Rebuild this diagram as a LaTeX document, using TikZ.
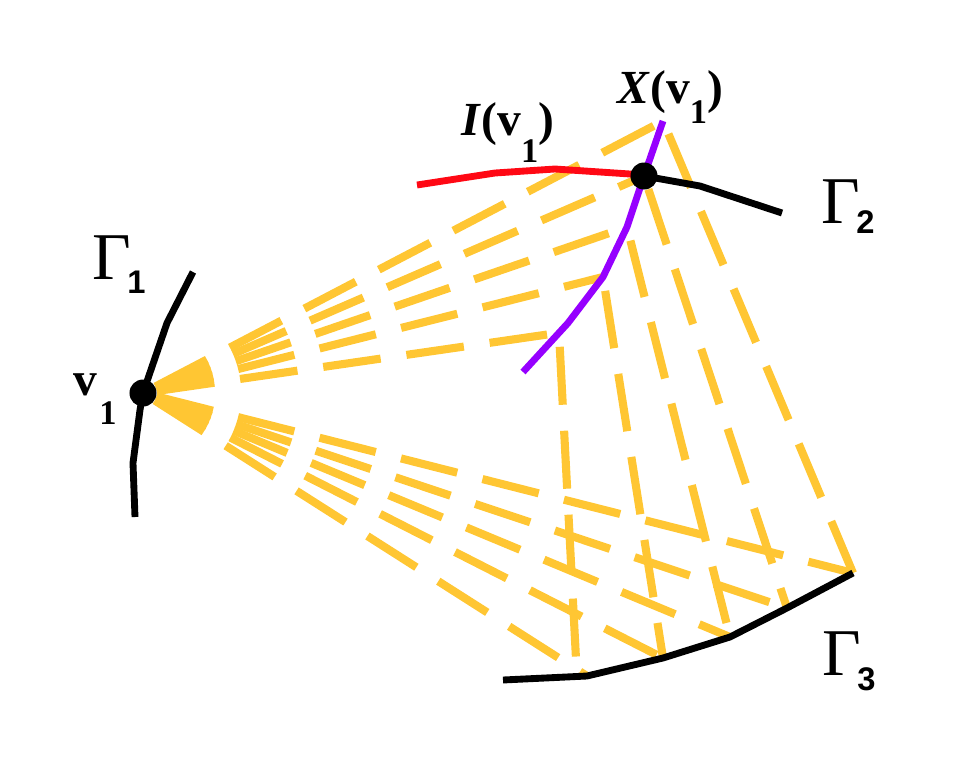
\documentclass[tikz,border=0pt]{standalone}
\usepackage{fontspec}
\setmainfont{Liberation Serif}
\newfontfamily\digitsans{Liberation Sans}
\usetikzlibrary{calc}
\definecolor{fanyellow}{RGB}{255,198,51}
\definecolor{curvered}{RGB}{255,8,20}
\definecolor{curvepurple}{RGB}{150,0,255}
\tikzset{fan/.style={fanyellow, line width=2.3pt, dash pattern=on 0.58cm off 0.26cm, dash phase=0.70cm},
         curve/.style={line width=1.95pt, line join=round},
         dot/.style={circle, fill=black, inner sep=0pt, minimum size=0.27cm},
         lbl/.style={anchor=base west, inner sep=0pt, font=\fontsize{13.5}{15}\selectfont\bfseries},
         gamma/.style={anchor=base west, inner sep=0pt, font=\fontsize{19}{21}\selectfont}
}
\newcommand{\lsub}[2]{\raisebox{#1}{\fontsize{9.8}{11}\selectfont\bfseries #2}}
\newcommand{\gsub}[2]{\raisebox{#1}{\digitsans\fontsize{9.3}{11}\selectfont\bfseries #2}}

\begin{document}
\begin{tikzpicture}[x=0.01cm,y=-0.01cm]
    \useasboundingbox (0,0) rectangle (972,760);
    % Gamma_1 with v_1 on it
    \coordinate (g1a) at (135,517);
    \coordinate (g1b) at (133,463);
    \coordinate (g1c) at (140,410);
    \coordinate (v1)  at (143,393);
    \coordinate (g1d) at (167,323);
    \coordinate (g1e) at (193,272);
    % Gamma_2, I(v_1) and X(v_1)
    \coordinate (x1)  at (644,176);
    \coordinate (g2b) at (700,186);
    \coordinate (g2c) at (782,213);
    \coordinate (r1) at (417,185);
    \coordinate (r2) at (495,173);
    \coordinate (r3) at (555,169);
    \coordinate (r4) at (630,174);
    \coordinate (p1) at (663,121);
    \coordinate (p3) at (627,227);
    \coordinate (p4) at (603,277);
    \coordinate (p5b) at (568,323);
    \coordinate (p6) at (523,372);
    \coordinate (p5) at ($(p5b)!0.2!(p6)$);
    % Gamma_3
    \coordinate (g3a) at (503,680);
    \coordinate (g3b) at (587,676);
    \coordinate (g3c) at (663,658);
    \coordinate (g3d) at (730,637);
    \coordinate (g3e) at (787,608);
    \coordinate (g3f) at (853,573);
    \coordinate (g3ab) at ($(g3a)!0.88!(g3b)$);

    % dashed fans
    \foreach \p in {p1,x1,p3,p4,p5}
        \draw[fan] (v1) -- (\p);
    \foreach \g in {g3b,g3c,g3d,g3e,g3f}
        \draw[fan] (v1) -- (\g);
    \draw[fan] (p5) -- (g3ab);
    \draw[fan] (p4) -- (g3c);
    \draw[fan] (p3) -- (g3d);
    \draw[fan] (x1) -- (g3e);
    \draw[fan] (p1) -- (g3f);

    % curves
    \draw[curve] (g1a) -- (g1b) -- (g1c) -- (v1) -- (g1d) -- (g1e);
    \draw[curve] (x1) -- (g2b) -- (g2c);
    \draw[curve] (g3a) -- (g3b) -- (g3c) -- (g3d) -- (g3e) -- (g3f);
    \draw[curve, curvered] (r1) -- (r2) -- (r3) -- (r4) -- (x1);
    \draw[curve, curvepurple] (p1) -- (x1) -- (p3) -- (p4) -- (p5b) -- (p6);

    \node[dot] (v1dot) at (v1) {};
    \node[dot] (x1dot) at (x1) {};

    % labels
    \node[gamma] (gam1) at (92,279) {Γ\kern-0.04cm\gsub{-0.14cm}{1}};
    \node[gamma] (gam2) at (821,223) {Γ\kern-0.04cm\gsub{-0.10cm}{2}};
    \node[gamma] (gam3) at (822,675) {Γ\kern-0.04cm\gsub{-0.15cm}{3}};
    \node[lbl] (lv1) at (73,395) {v\kern0.02cm\lsub{-0.29cm}{1}};
    \node[lbl] (lI) at (461,135) {\itshape I\/\upshape(v\lsub{-0.27cm}{1})};
    \node[lbl] (lX) at (617,103) {\itshape X\/\upshape(v\lsub{-0.20cm}{1})};
\end{tikzpicture}
\end{document}
